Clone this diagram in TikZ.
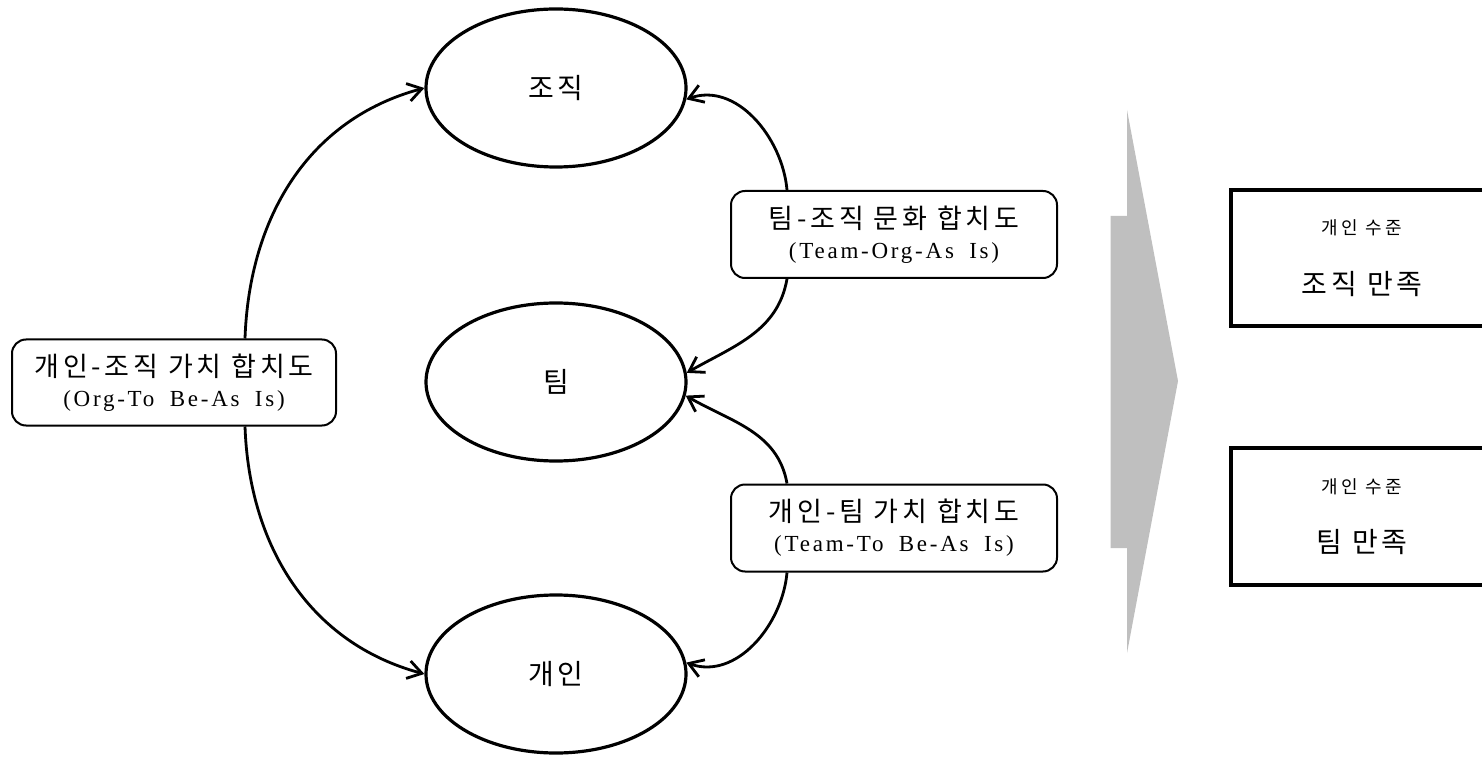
\documentclass[tikz,border=0pt]{standalone}
\usepackage{fontspec}
\setmainfont{Liberation Serif}
\newfontfamily\cjkw[LetterSpace=14]{Noto Sans CJK KR}
\newfontfamily\cjks[LetterSpace=20]{Noto Sans CJK KR}
\newfontfamily\cjkm[LetterSpace=14]{Noto Sans CJK KR}
\newfontfamily\latw[LetterSpace=12,WordSpace=1.8]{Liberation Serif}
\usetikzlibrary{arrows.meta,shapes.geometric}
\begin{document}
\begin{tikzpicture}[x=0.5pt,y=0.5pt,
  oval/.style={ellipse, draw, line width=1.6pt, minimum width=130pt, minimum height=79pt, inner sep=0pt,
    font=\cjkm\fontsize{14}{16}\selectfont},
  labbox/.style={draw, rounded corners=7pt, line width=1pt, minimum width=162pt, minimum height=43pt,
    align=center, inner sep=0pt},
  outbox/.style={draw, line width=1.8pt, minimum width=131pt, minimum height=68pt, align=center, inner sep=0pt},
  conn/.style={line width=1.4pt, -{Straight Barb[length=7pt,width=9pt,line width=1.4pt]}},
]
\useasboundingbox (0,0) rectangle (1482,756);

% ellipses
\node[oval] (org) at (556,668) {조직};
\node[oval] (team) at (556,374) {팀};
\node[oval] (ind) at (556,82) {개인};

% label boxes
\node[labbox] (lbox) at (174,373.5) {{\cjkw\fontsize{13.5}{15}\selectfont 개인-조직 가치 합치도}\\[3pt]{\latw\fontsize{11.5}{12}\selectfont (Org-To Be-As Is)}};
\node[labbox, minimum width=163pt, minimum height=43.5pt] (rbox1) at (894,521.5) {{\cjkw\fontsize{13.5}{15}\selectfont 팀-조직 문화 합치도}\\[3pt]{\latw\fontsize{11.5}{12}\selectfont (Team-Org-As Is)}};
\node[labbox, minimum width=163pt, minimum height=43.5pt] (rbox2) at (894,228) {{\cjkw\fontsize{13.5}{15}\selectfont 개인-팀 가치 합치도}\\[3pt]{\latw\fontsize{11.5}{12}\selectfont (Team-To Be-As Is)}};

% connectors
\draw[conn] ([xshift=35.5pt]lbox.north) to[out=88,in=195] (org.west);
\draw[conn] ([xshift=35.5pt]lbox.south) to[out=-88,in=165] (ind.west);
\draw[conn] ([xshift=-53.5pt]rbox1.north) to[out=95,in=20] (org.-5);
\draw[conn] ([xshift=-53.5pt]rbox1.south) to[out=-100,in=30] (team.4);
\draw[conn] ([xshift=-53.5pt]rbox2.north) to[out=100,in=-30] (team.-6);
\draw[conn] ([xshift=-53.5pt]rbox2.south) to[out=-95,in=-20] (ind.5);

% big gray arrow
\fill[fill={rgb,255:red,191;green,191;blue,191}] (1127,646) -- (1127,540) -- (1110.5,540) -- (1110.5,208)
  -- (1127,208) -- (1127,103) -- (1178,375) -- cycle;

% outcome boxes
\node[outbox] (sat1) at (1362,498) {{\cjks\fontsize{9}{10}\selectfont 개인 수준}\\[16.5pt]{\cjkm\fontsize{14}{16}\selectfont 조직 만족}};
\node[outbox, minimum height=68.5pt] (sat2) at (1362,239.5) {{\cjks\fontsize{9}{10}\selectfont 개인 수준}\\[16.5pt]{\cjkm\fontsize{14}{16}\selectfont 팀 만족}};
\end{tikzpicture}
\end{document}
